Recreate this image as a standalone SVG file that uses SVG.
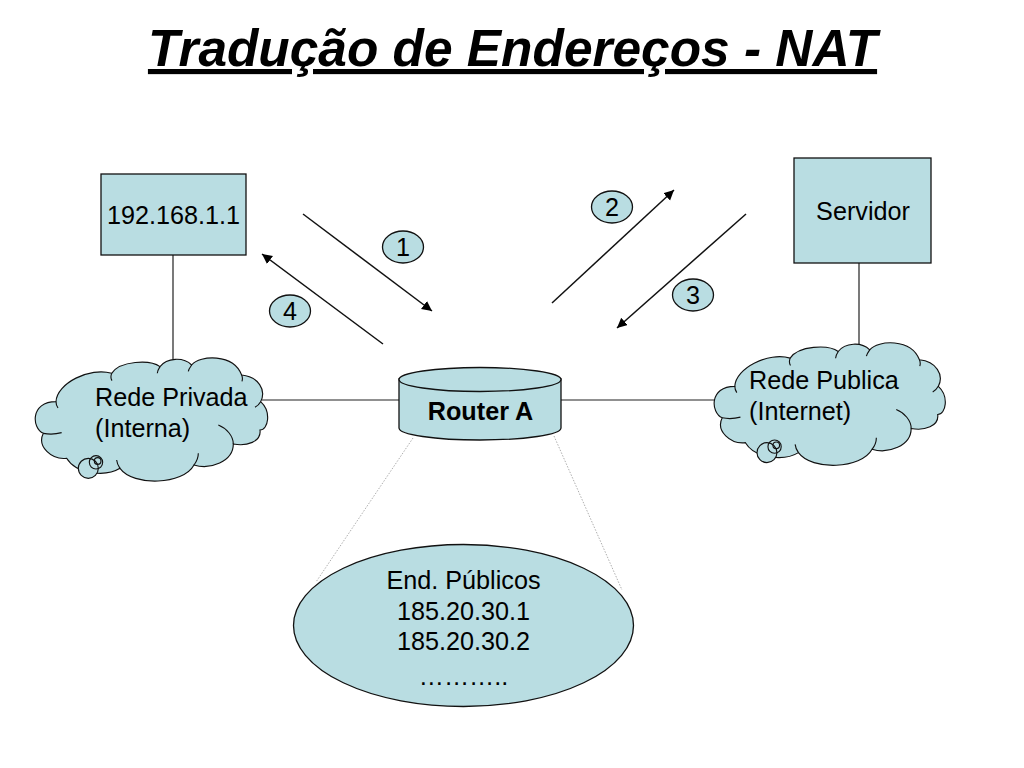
<svg xmlns="http://www.w3.org/2000/svg" xmlns:xlink="http://www.w3.org/1999/xlink" width="1024" height="768" viewBox="0 0 1024 768">
<style>
text{font-family:"Liberation Sans",Arial,sans-serif;font-size:25.200px;fill:#000}
.s{fill:#b9dde2;stroke:#111;stroke-width:1.3}
.l{fill:none;stroke:#222;stroke-width:1.2}
.a{fill:none;stroke:#111;stroke-width:1.5;marker-end:url(#arr)}
.d{fill:none;stroke:#999;stroke-width:.8;stroke-dasharray:1.5 1.5}
.c{text-anchor:middle}
</style>
<defs>
<marker id="arr" markerUnits="userSpaceOnUse" markerWidth="12" markerHeight="12" refX="10" refY="5" orient="auto"><path d="M0 0L10 5L0 10Z" fill="#000"/></marker>
<g id="cloud">
<path fill="#b9dde2" stroke="#111" stroke-width="3.4" d="M108 185C110 130 210 80 275 100C300 62 390 58 420 80C440 53 490 50 515 75C540 45 640 40 665 105C715 110 740 150 722 185C755 215 745 270 720 270C725 305 680 320 640 312C640 365 570 390 522 375C490 435 340 440 300 385C260 410 170 405 140 355C95 360 50 320 70 280C35 265 30 185 108 185Z"/>
<path fill="none" stroke="#111" stroke-width="3.4" d="M70 280C85 283 110 282 125 278M108 185C108 192 110 198 114 204M275 100C272 108 272 116 276 122M420 80C415 88 412 94 412 100M515 75C510 82 506 88 505 94M665 105C668 112 668 118 666 124M722 185C718 192 712 198 705 202M640 312C640 288 620 265 595 255M522 375C530 365 535 352 535 340M300 385C295 378 291 370 290 360"/>
<circle cx="205" cy="385" r="30" fill="#b9dde2"/>
<circle cx="228" cy="367" r="20" fill="#b9dde2"/>
<circle cx="205" cy="385" r="30" fill="none" stroke="#111" stroke-width="3.4"/>
<circle cx="228" cy="367" r="20" fill="none" stroke="#111" stroke-width="3.4"/>
<circle cx="233" cy="363" r="10" fill="none" stroke="#111" stroke-width="3.4"/>
</g>
</defs>
<rect width="1024" height="768" fill="#fff"/>
<text id="title" x="512.500" y="66" class="c" style="font-size:51.400px;font-weight:bold;font-style:italic;text-decoration:underline">Tradução de Endereços - NAT</text>
<g id="connectors">
<path class="l" d="M173 255V360M859 263V345M262 400H400M560 400H716"/>
<path class="d" d="M413 438L316 582M554 436L622 590"/>
<path class="a" d="M303 214L432 311"/>
<path class="a" d="M383 344L262 254"/>
<path class="a" d="M552 303L674 190"/>
<path class="a" d="M746 214L617 328"/>
</g>
<g id="host"><rect class="s" x="101" y="174" width="145" height="81"/><text x="173.500" y="224" class="c">192.168.1.1</text></g>
<g id="server"><rect class="s" x="794" y="158" width="137" height="105"/><text x="863" y="220" class="c">Servidor</text></g>
<g id="cloud-private"><use xlink:href="#cloud" href="#cloud" transform="translate(20 340) scale(.3333)"/><text x="95" y="406">Rede Privada</text><text x="95" y="437">(Interna)</text></g>
<g id="cloud-public"><use xlink:href="#cloud" href="#cloud" transform="translate(699 325) scale(.3315)"/><text x="749" y="389">Rede Publica</text><text x="749" y="420">(Internet)</text></g>
<g id="router"><path class="s" d="M399 379V428A81 12 0 0 0 561 428V379Z"/><ellipse class="s" cx="480" cy="379.500" rx="81" ry="12"/><text x="480.500" y="420" class="c" style="font-weight:bold">Router A</text></g>
<g id="pool"><ellipse class="s" cx="463.500" cy="625.500" rx="170" ry="81"/><text x="463.500" y="589" class="c">End. Públicos</text><text x="463.500" y="620" class="c">185.20.30.1</text><text x="463.500" y="650" class="c">185.20.30.2</text><text x="463.500" y="685" class="c">………..</text></g>
<g id="badge-1"><ellipse class="s" cx="403" cy="247" rx="20.500" ry="16"/><text x="403" y="256" class="c">1</text></g>
<g id="badge-2"><ellipse class="s" cx="612" cy="207" rx="20.500" ry="16"/><text x="612" y="216" class="c">2</text></g>
<g id="badge-3"><ellipse class="s" cx="693" cy="295" rx="20.500" ry="16"/><text x="693" y="304" class="c">3</text></g>
<g id="badge-4"><ellipse class="s" cx="290" cy="311" rx="20.500" ry="16"/><text x="290" y="320" class="c">4</text></g>
</svg>
